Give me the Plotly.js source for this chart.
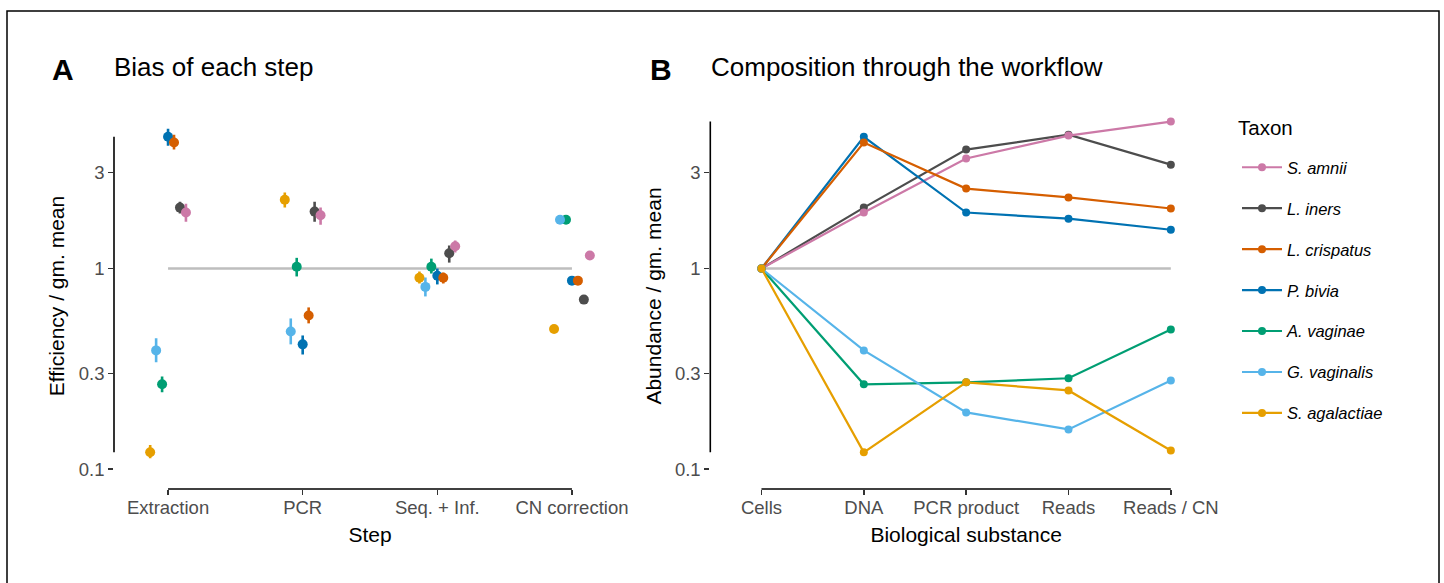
<!DOCTYPE html>
<html>
<head>
<meta charset="utf-8">
<script src="https://cdn.plot.ly/plotly-3.0.1.min.js"></script>
<style>html,body{margin:0;padding:0;background:#fff;}#chart{width:1444px;height:583px;}</style>
</head>
<body>
<div id="chart"></div>
<script>
// ---------------- data ----------------
const taxa = ['S. amnii', 'L. iners', 'L. crispatus', 'P. bivia', 'A. vaginae', 'G. vaginalis', 'S. agalactiae'];
const taxonColors = ['#CC79A7', '#4D4D4D', '#D55E00', '#0072B2', '#009E73', '#56B4E9', '#E69F00'];

// Panel A: efficiency of each step (values in taxa order)
const steps = ['Extraction', 'PCR', 'Seq. + Inf.', 'CN correction'];
const effExtraction = [1.90, 2.01, 4.24, 4.53, 0.265, 0.391, 0.1215];
const effPCR        = [1.84, 1.92, 0.583, 0.419, 1.02, 0.486, 2.20];
const effSeqInf     = [1.29, 1.19, 0.90, 0.92, 1.02, 0.81, 0.90];
const effCN         = [1.16, 0.70, 0.87, 0.87, 1.75, 1.75, 0.50];
const loExtraction  = [1.71, 1.88, 3.91, 4.09, 0.242, 0.341, 0.1135];
const hiExtraction  = [2.10, 2.15, 4.64, 4.97, 0.290, 0.449, 0.132];
const loPCR         = [1.65, 1.71, 0.533, 0.373, 0.913, 0.419, 2.01];
const hiPCR         = [2.01, 2.15, 0.640, 0.464, 1.13, 0.564, 2.39];
const loSeqInf      = [1.20, 1.07, 0.842, 0.833, 0.944, 0.726, 0.842];
const hiSeqInf      = [1.38, 1.30, 0.955, 1.00, 1.12, 0.902, 0.966];
const loCN          = [null, null, null, null, null, null, null];
const hiCN          = [null, null, null, null, null, null, null];

// Panel B: composition through the workflow (values in taxa order)
const substances = ['Cells', 'DNA', 'PCR product', 'Reads', 'Reads / CN'];
const abCells      = [1, 1, 1, 1, 1, 1, 1];
const abDNA        = [1.90, 2.01, 4.24, 4.53, 0.265, 0.391, 0.1215];
const abPCRproduct = [3.53, 3.91, 2.50, 1.90, 0.271, 0.192, 0.271];
const abReads      = [4.59, 4.64, 2.26, 1.77, 0.284, 0.158, 0.247];
const abReadsCN    = [5.39, 3.29, 1.99, 1.56, 0.497, 0.277, 0.124];

const refValue = [1];

// ---------------- layout helpers ----------------
const W = 1444, H = 583;
const px = x => x / W;
const py = y => 1 - y / H;
const FONT = 'Liberation Sans, Arial, Helvetica, sans-serif';

const effByStep = [effExtraction, effPCR, effSeqInf, effCN];
const loByStep = [loExtraction, loPCR, loSeqInf, loCN];
const hiByStep = [hiExtraction, hiPCR, hiSeqInf, hiCN];
const abBySub = [abCells, abDNA, abPCRproduct, abReads, abReadsCN];

// dodge order (left to right) in panel A
const dodgeOrder = ['S. agalactiae', 'G. vaginalis', 'A. vaginae', 'P. bivia', 'L. crispatus', 'L. iners', 'S. amnii'];
const dodgeWidth = 0.31;
// drawing order of taxa
const drawOrder = ['L. iners', 'S. amnii', 'P. bivia', 'L. crispatus', 'A. vaginae', 'G. vaginalis', 'S. agalactiae'];

const traces = [];

// reference lines at 1
traces.push({
  x: [0, steps.length - 1], y: [refValue[0], refValue[0]], xaxis: 'x', yaxis: 'y',
  mode: 'lines', line: {color: '#BEBEBE', width: 2.5}, showlegend: false, hoverinfo: 'skip'
});
traces.push({
  x: [0, substances.length - 1], y: [refValue[0], refValue[0]], xaxis: 'x2', yaxis: 'y2',
  mode: 'lines', line: {color: '#BEBEBE', width: 2.5}, showlegend: false, hoverinfo: 'skip'
});

drawOrder.forEach(name => {
  const t = taxa.indexOf(name);
  const col = taxonColors[t];
  const k = dodgeOrder.indexOf(name);
  const off = (k - (dodgeOrder.length - 1) / 2) * dodgeWidth / dodgeOrder.length;
  const ys = effByStep.map(a => a[t]);
  const up = hiByStep.map((a, i) => a[t] == null ? NaN : a[t] - ys[i]);
  const dn = loByStep.map((a, i) => a[t] == null ? NaN : ys[i] - a[t]);
  traces.push({
    x: steps.map((s, i) => i + off), y: ys, xaxis: 'x', yaxis: 'y',
    mode: 'markers', name: name, showlegend: false,
    marker: {color: col, size: 10},
    error_y: {type: 'data', symmetric: false, array: up, arrayminus: dn, color: col, thickness: 2.6, width: 0},
    legendgroup: name
  });
});

drawOrder.forEach(name => {
  const t = taxa.indexOf(name);
  const col = taxonColors[t];
  traces.push({
    x: substances.map((s, i) => i), y: abBySub.map(a => a[t]), xaxis: 'x2', yaxis: 'y2',
    mode: 'lines+markers', name: '<i>' + name + '</i>', legendgroup: name, legendrank: 10 + t,
    line: {color: col, width: 2.2}, marker: {color: col, size: 8}
  });
});

// axis geometry
const y1px = 268.5, perDecade = 200.8, topPx = 103, botPx = 489;
const yRange = [(y1px - botPx) / perDecade, (y1px - topPx) / perDecade];

const tickFont = {family: FONT, size: 18.5, color: '#4D4D4D'};
const titleFont = {family: FONT, size: 21, color: '#000000'};

const yCommon = {
  type: 'log', range: yRange, domain: [py(botPx), py(topPx)],
  tickvals: [0.1, 0.3, 1, 3], ticktext: ['0.1', '0.3', '1', '3'],
  ticks: 'outside', ticklen: 5, tickwidth: 1.6, tickcolor: '#333333',
  showline: false, showgrid: false, zeroline: false, tickfont: tickFont
};
const xCommon = {
  ticks: 'outside', ticklen: 5, tickwidth: 1.6, tickcolor: '#333333',
  showline: false, showgrid: false, zeroline: false, tickfont: tickFont,
  ticklabelstandoff: -3
};

const allEff = [].concat(...effByStep);
const allAb = [].concat(...abBySub);

const layout = {
  width: W, height: H,
  margin: {l: 0, r: 0, t: 0, b: 0},
  paper_bgcolor: '#ffffff', plot_bgcolor: 'rgba(0,0,0,0)',
  font: {family: FONT, color: '#000000'},
  showlegend: true,
  xaxis: Object.assign({}, xCommon, {
    domain: [px(114.2), px(625.8)], range: [-0.4, 3.4], anchor: 'y',
    tickvals: steps.map((s, i) => i), ticktext: steps,
    title: {text: 'Step', font: titleFont, standoff: 10}
  }),
  yaxis: Object.assign({}, yCommon, {
    anchor: 'x',
    title: {text: 'Efficiency / gm. mean', font: titleFont, standoff: 8}
  }),
  xaxis2: Object.assign({}, xCommon, {
    domain: [px(710.3), px(1222)], range: [-0.5, 4.5], anchor: 'y2',
    tickvals: substances.map((s, i) => i), ticktext: substances,
    title: {text: 'Biological substance', font: titleFont, standoff: 10}
  }),
  yaxis2: Object.assign({}, yCommon, {
    anchor: 'x2',
    title: {text: 'Abundance / gm. mean', font: titleFont, standoff: 7}
  }),
  legend: {
    x: px(1237), y: py(150), xanchor: 'left', yanchor: 'top',
    font: {family: FONT, size: 16.5, color: '#000000'},
    traceorder: 'grouped', tracegroupgap: 16.5, itemwidth: 40,
    bgcolor: 'rgba(0,0,0,0)'
  },
  shapes: [
    // outer frame
    {type: 'rect', xref: 'paper', yref: 'paper', x0: px(7), x1: px(1439), y0: -0.1, y1: py(11),
     line: {color: '#000000', width: 1.5}, fillcolor: 'rgba(0,0,0,0)'},
    // panel A axis lines (span of data)
    {type: 'line', xref: 'paper', yref: 'y', x0: px(114), x1: px(114),
     y0: Math.min(...allEff), y1: Math.max(...allEff), line: {color: '#000000', width: 1.6}},
    {type: 'line', xref: 'x', yref: 'paper', x0: 0, x1: steps.length - 1,
     y0: py(botPx), y1: py(botPx), line: {color: '#000000', width: 1.6}},
    // panel B axis lines
    {type: 'line', xref: 'paper', yref: 'y2', x0: px(710.3), x1: px(710.3),
     y0: Math.min(...allAb), y1: Math.max(...allAb), line: {color: '#000000', width: 1.6}},
    {type: 'line', xref: 'x2', yref: 'paper', x0: 0, x1: substances.length - 1,
     y0: py(botPx), y1: py(botPx), line: {color: '#000000', width: 1.6}}
  ],
  annotations: [
    {text: '<b>A</b>', xref: 'paper', yref: 'paper', x: px(50), y: py(70), xanchor: 'left', yanchor: 'middle',
     showarrow: false, font: {family: FONT, size: 30, color: '#000000'}},
    {text: 'Bias of each step', xref: 'paper', yref: 'paper', x: px(112), y: py(67), xanchor: 'left', yanchor: 'middle',
     showarrow: false, font: {family: FONT, size: 26, color: '#000000'}},
    {text: '<b>B</b>', xref: 'paper', yref: 'paper', x: px(648), y: py(70), xanchor: 'left', yanchor: 'middle',
     showarrow: false, font: {family: FONT, size: 30, color: '#000000'}},
    {text: 'Composition through the workflow', xref: 'paper', yref: 'paper', x: px(709), y: py(67), xanchor: 'left', yanchor: 'middle',
     showarrow: false, font: {family: FONT, size: 26, color: '#000000'}},
    {text: 'Taxon', xref: 'paper', yref: 'paper', x: px(1236), y: py(127), xanchor: 'left', yanchor: 'middle',
     showarrow: false, font: {family: FONT, size: 20.5, color: '#000000'}}
  ]
};

Plotly.newPlot('chart', traces, layout, {displayModeBar: false, staticPlot: true});
</script>
</body>
</html>
